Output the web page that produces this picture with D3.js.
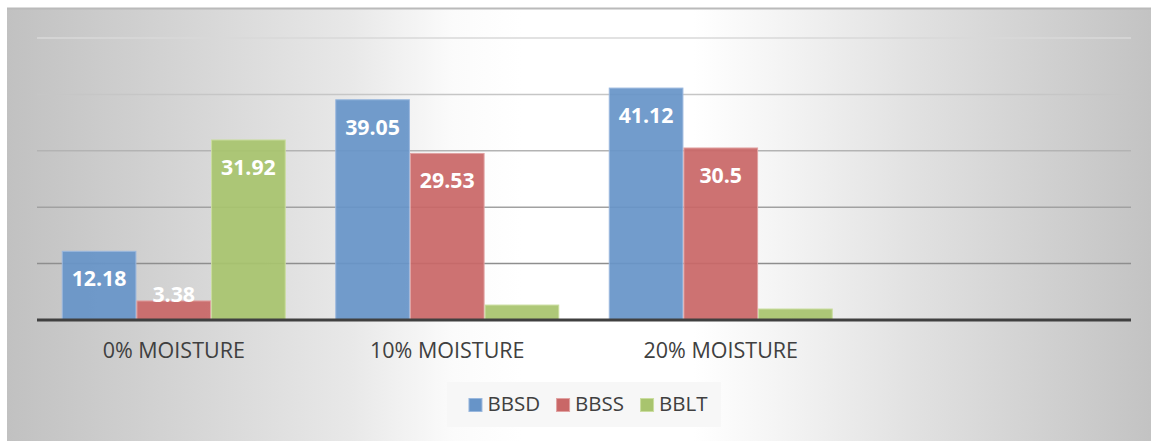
<!DOCTYPE html>
<html>
<head>
<meta charset="utf-8">
<script src="https://cdn.jsdelivr.net/npm/d3@7"></script>
<style>
  html, body { margin: 0; padding: 0; background: #ffffff; }
  svg { display: block; }
</style>
</head>
<body>
<svg id="chart" width="1151" height="441"></svg>
<script>
// ---- data ----
const categories = ["0% MOISTURE", "10% MOISTURE", "20% MOISTURE", ""];
const seriesNames = ["BBSD", "BBSS", "BBLT"];
const bbsd = [12.18, 39.05, 41.12, null];
const bbss = [3.38, 29.53, 30.5, null];
const bblt = [31.92, 2.65, 1.95, null];
const bbsdLabels = ["12.18", "39.05", "41.12", null];
const bbssLabels = ["3.38", "29.53", "30.5", null];
const bbltLabels = ["31.92", null, null, null];
const gridTicks = [10, 20, 30, 40, 50];

// ---- styling ----
const W = 1151, H = 441;
const plot = { left: 37, right: 1131, top: 38, bottom: 320 };
const fills = { BBSD: "#6794c8", BBSS: "#c96767", BBLT: "#a8c46e" };
const strokes = { BBSD: "#9ab8de", BBSS: "#e0a2a2", BBLT: "#cadd9f" };
const textColor = "#404040";
const font = "'Open Sans', 'DejaVu Sans', sans-serif";

const svg = d3.select("#chart");
const defs = svg.append("defs");
const grad = defs.append("linearGradient").attr("id", "bg").attr("x1", "0%").attr("x2", "100%").attr("y1", "0%").attr("y2", "0%");
[[0, "#c1c1c1"], [0.15, "#d4d4d4"], [0.3, "#e8e8e8"], [0.39, "#fbfbfb"], [0.45, "#ffffff"], [0.6, "#ffffff"], [0.67, "#f5f5f5"], [0.8, "#e0e0e0"], [1, "#c3c3c3"]]
  .forEach(([o, c]) => grad.append("stop").attr("offset", o).attr("stop-color", c));

// panel
svg.append("rect").attr("x", 7).attr("y", 8).attr("width", W - 7).attr("height", H - 8).attr("fill", "url(#bg)");
svg.append("line").attr("x1", 7).attr("x2", W).attr("y1", 8.5).attr("y2", 8.5).attr("stroke", "#bababa").attr("stroke-width", 2);

// scales
const x = d3.scaleBand().domain(categories).range([plot.left, plot.right]).padding(0);
const gap = x.bandwidth() * 0.0905;
const xs = d3.scaleBand().domain(seriesNames).range([gap, x.bandwidth() - gap]).padding(0);
const y = d3.scaleLinear().domain([0, 50]).range([plot.bottom, plot.top]);
const gridColor = d3.scaleLinear().domain([10, 50]).range(["#8e8e8e", "#d8d8d8"]);

// gridlines
svg.append("g").selectAll("line").data(gridTicks).join("line")
  .attr("x1", plot.left).attr("x2", plot.right)
  .attr("y1", d => y(d)).attr("y2", d => y(d))
  .attr("stroke", d => gridColor(d)).attr("stroke-width", 1.5);

// bars
const seriesData = [
  { name: "BBSD", values: bbsd, labels: bbsdLabels },
  { name: "BBSS", values: bbss, labels: bbssLabels },
  { name: "BBLT", values: bblt, labels: bbltLabels }
];
const rows = [];
seriesData.forEach(s => s.values.forEach((v, i) => {
  if (v != null) rows.push({ series: s.name, cat: categories[i], value: v, label: s.labels[i] });
}));

svg.append("g").selectAll("rect").data(rows).join("rect")
  .attr("x", d => x(d.cat) + xs(d.series) + 0.5)
  .attr("width", xs.bandwidth() - 1)
  .attr("y", d => y(d.value))
  .attr("height", d => y(0) - y(d.value))
  .attr("fill", d => fills[d.series])
  .attr("fill-opacity", 0.93)
  .attr("stroke", d => strokes[d.series])
  .attr("stroke-width", 1);

// baseline
svg.append("line").attr("x1", plot.left).attr("x2", plot.right)
  .attr("y1", y(0)).attr("y2", y(0)).attr("stroke", "#404040").attr("stroke-width", 3);

// data labels
svg.append("g").selectAll("text").data(rows.filter(d => d.label)).join("text")
  .attr("x", d => x(d.cat) + xs(d.series) + xs.bandwidth() / 2)
  .attr("y", d => Math.min(y(d.value) + 35, y(0) - 18))
  .attr("text-anchor", "middle")
  .attr("font-family", font).attr("font-weight", "bold").attr("font-size", 21.3)
  .attr("fill", "#ffffff")
  .text(d => d.label);

// category axis labels
const xAxis = d3.axisBottom(x).tickSize(0).tickPadding(0);
const ax = svg.append("g").attr("transform", `translate(0,${y(0)})`).call(xAxis);
ax.select(".domain").remove();
ax.selectAll("text")
  .attr("y", 38).attr("dy", 0)
  .attr("font-family", font).attr("font-size", 21.5)
  .attr("fill", textColor);

// legend
svg.append("rect").attr("x", 447).attr("y", 382).attr("width", 274).attr("height", 45).attr("fill", "#f7f7f7");
const lg = svg.append("g");
const items = [];
seriesNames.forEach(name => {
  const g = lg.append("g");
  g.append("rect").attr("x", 0.5).attr("y", 398.5).attr("width", 13).attr("height", 13)
    .attr("fill", fills[name]).attr("stroke", strokes[name]).attr("stroke-width", 1);
  const t = g.append("text").attr("x", 19).attr("y", 411)
    .attr("font-family", font).attr("font-size", 20.5).attr("fill", textColor).text(name);
  const w = 19 + t.node().getComputedTextLength();
  items.push({ g, w });
});
const itemGap = 16;
const total = items.reduce((a, b) => a + b.w, 0) + itemGap * (items.length - 1);
let start = 588 - total / 2;
items.forEach(it => { it.g.attr("transform", `translate(${start},0)`); start += it.w + itemGap; });
</script>
</body>
</html>
